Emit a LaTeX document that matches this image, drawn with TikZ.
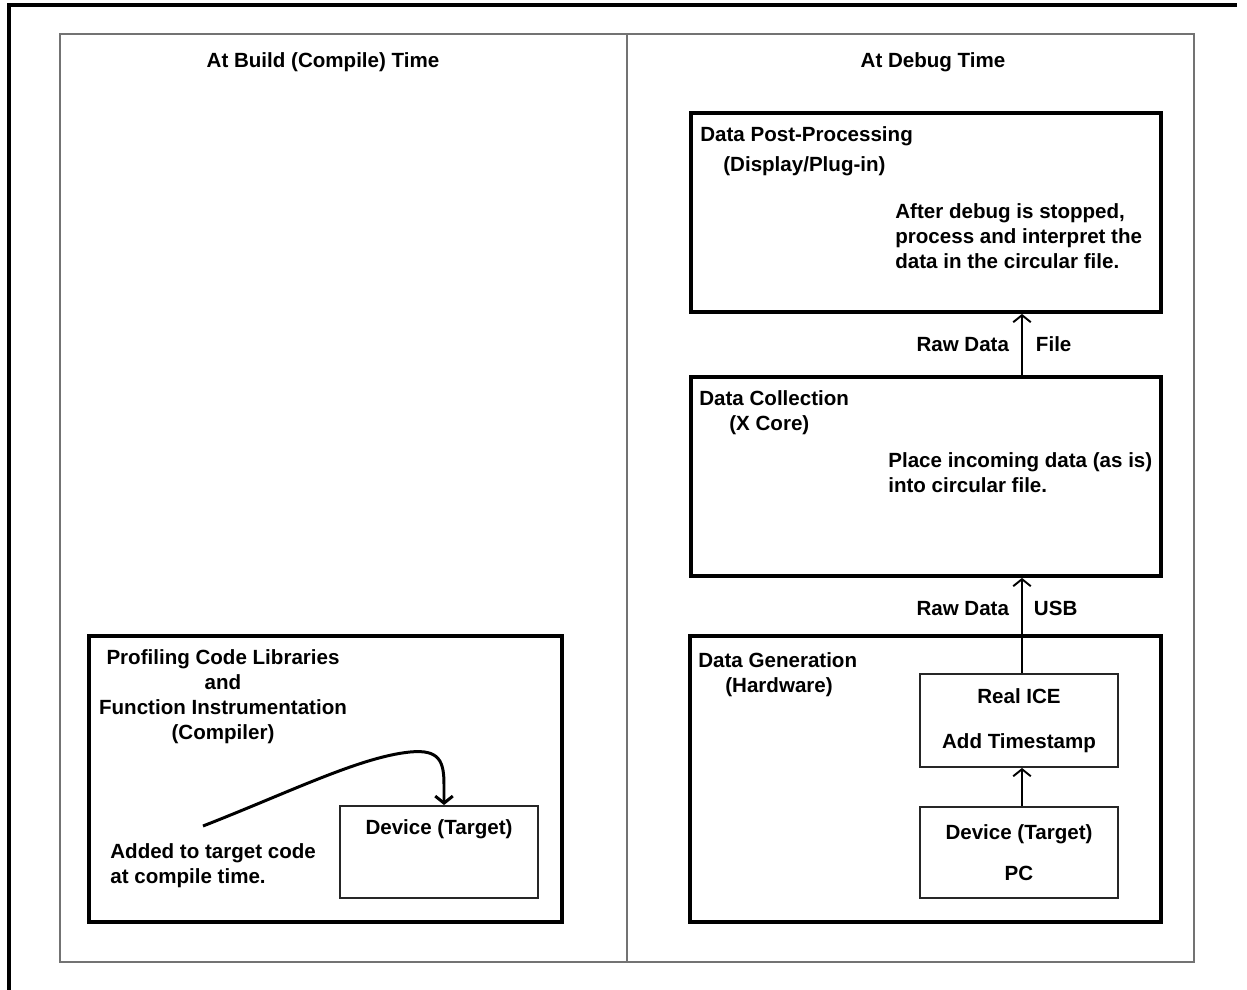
\documentclass[tikz,border=0pt]{standalone}
\usepackage{fontspec}
\setmainfont{Liberation Sans}
\usetikzlibrary{arrows.meta, positioning}
\tikzset{
  panel/.style={draw=black!55, line width=1.1pt},
  stage/.style={rectangle, draw, line width=2.2pt, inner sep=0pt},
  unit/.style={rectangle, draw=black!85, line width=1.1pt, inner sep=0pt, align=center},
  txt/.style={inner sep=0pt, font=\bfseries\fontsize{11.7}{14.2}\selectfont},
  arr/.style={-{Straight Barb[length=4pt, width=10pt]}, line width=1.1pt},
}

\begin{document}
\begin{tikzpicture}[
  x=0.02cm, y=-0.02cm,
  curve/.style={-{Straight Barb[length=4pt, width=10pt]}, line width=1.7pt},
]
  \useasboundingbox (0,0) rectangle (1247,990);
  \draw[line width=2pt] (9,990) -- (9,5) -- (1237,5);
  \draw[panel] (60,34) rectangle (1194,962);
  \draw[panel] (627,34) -- (627,962);
  \node[txt] (buildhd) at (323,62) {At Build (Compile) Time};
  \node[txt] (debughd) at (933,62) {At Debug Time};

  \node[stage, minimum width=9.46cm, minimum height=5.72cm] (build) at (325.5,779) {};
  \node[unit, minimum width=3.96cm, minimum height=1.84cm] (dev1) at (439,852) {};
  \node[txt, align=center] (profT) at (223,697)
    {Profiling Code Libraries\\and\\Function Instrumentation\\(Compiler)};
  \node[txt, align=left, anchor=north west] (addT) at (110,843)
    {Added to target code\\at compile time.};
  \node[txt] (dev1T) at (439,829) {Device (Target)};
  \coordinate (crv) at (203,826);
  \draw[curve] (crv) .. controls (290,792) and (360,757) .. (410,752)
    .. controls (440,749) and (444,762) .. (444,785) -- ([xshift=0.1cm]dev1.north);

  \node[stage, minimum width=9.4cm, minimum height=3.98cm] (post) at (926,212.5) {};
  \node[stage, minimum width=9.4cm, minimum height=3.98cm] (coll) at (926,476.5) {};
  \node[stage, minimum width=9.42cm, minimum height=5.72cm] (gen) at (925.5,779) {};
  \node[unit, txt, minimum width=3.96cm, minimum height=1.86cm] (ice) at (1019,720.5)
    {Real ICE\\[0.4cm]Add Timestamp};
  \node[unit, txt, minimum width=3.96cm, minimum height=1.82cm] (dev2) at (1019,852.5)
    {Device (Target)\\[0.32cm]PC};
  \coordinate (bus) at (1022,0);

  \node[txt, align=left, anchor=north west] (postT) at (700,126)
    {Data Post-Processing\\[0.1cm]\hspace*{0.46cm}(Display/Plug-in)};
  \node[txt, align=left, anchor=north west] (postB) at (895,203)
    {After debug is stopped,\\process and interpret the\\data in the circular file.};
  \node[txt, align=left, anchor=north west] (collT) at (699,390)
    {Data Collection\\\hspace*{0.6cm}(X Core)};
  \node[txt, align=left, anchor=north west] (collB) at (888,452)
    {Place incoming data (as is)\\into circular file.};
  \node[txt, align=left, anchor=north west] (genT) at (698,652)
    {Data Generation\\\hspace*{0.54cm}(Hardware)};

  \draw[arr] (dev2.north -| bus) -- (ice.south -| bus);
  \draw[arr] (ice.north -| bus) -- (coll.south -| bus)
    node[txt, pos=.68, left=0.24cm] {Raw Data}
    node[txt, pos=.68, right=0.22cm] {USB};
  \draw[arr] (coll.north -| bus) -- (post.south -| bus)
    node[txt, midway, left=0.24cm] {Raw Data}
    node[txt, midway, right=0.26cm] {File};
\end{tikzpicture}
\end{document}
